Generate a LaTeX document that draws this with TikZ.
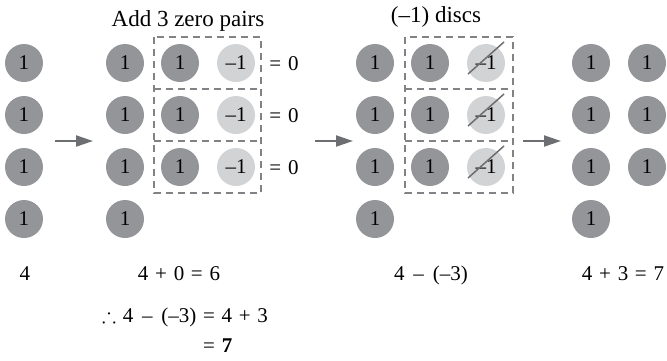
\documentclass[tikz,border=0pt]{standalone}
\usepackage{amssymb}
\usepackage{fontspec}
\setmainfont{Liberation Serif}
\usetikzlibrary{arrows.meta}
\definecolor{discdark}{HTML}{939598}
\definecolor{disclight}{HTML}{D1D3D4}
\definecolor{linegray}{HTML}{6D6E71}
\definecolor{boxgray}{HTML}{808285}
\newcommand\hfnt{\fontsize{23}{27}\selectfont}
\newcommand\lfnt{\fontsize{21}{25}\selectfont}
\newcommand\myg{\hspace{0.32em}}
\begin{document}
\begin{tikzpicture}[x=1pt,y=-1pt,
  posdisc/.style={circle,fill=discdark,minimum size=38pt,inner sep=0pt,font=\lfnt},
  negdisc/.style={circle,fill=disclight,minimum size=38pt,inner sep=0pt,font=\lfnt},
  pairbox/.style={draw=boxgray,line width=1.8pt,dash pattern=on 7pt off 5pt},
  stepArrow/.style={draw=linegray,line width=2pt,-{Triangle[length=17pt,width=11pt]}},
  strike/.style={draw=linegray,line width=1.5pt},
  lbl/.style={font=\lfnt,anchor=base,inner sep=0pt},
  head/.style={font=\hfnt,anchor=base,inner sep=0pt}]
\useasboundingbox (0,0) rectangle (667,360);

% column 1
\foreach \r/\y in {1/63,2/115,3/167,4/219}{
  \node[posdisc] (a\r) at (24,\y) {1};
}
% column 2
\foreach \r/\y in {1/63,2/115,3/167,4/219}{
  \node[posdisc] (b\r) at (125,\y) {1};
}
\foreach \r/\y in {1/63,2/115,3/167}{
  \node[posdisc] (bp\r) at (180,\y) {1};
  \node[negdisc] (bn\r) at (236,\y) {–1};
  \node[lbl] (bz\r) at (284,\y+7) {=\myg 0};
}
\draw[pairbox] (154,37) rectangle (261,193);
\draw[pairbox] (154,89) -- (261,89);
\draw[pairbox] (154,141) -- (261,141);
\node[head] (h1) at (188,26) {Add 3 zero pairs};

% column 3
\foreach \r/\y in {1/63,2/115,3/167,4/219}{
  \node[posdisc] (c\r) at (375,\y) {1};
}
\foreach \r/\y in {1/63,2/115,3/167}{
  \node[posdisc] (cp\r) at (430,\y) {1};
  \node[negdisc] (cn\r) at (486,\y) {–1};
  \draw[strike] ([shift={(-18,11)}]cn\r.center) -- ([shift={(18,-21)}]cn\r.center);
}
\draw[pairbox] (405,37) rectangle (513,193);
\draw[pairbox] (405,89) -- (513,89);
\draw[pairbox] (405,141) -- (513,141);
\node[head] (h2) at (436,22) {(–1) discs};

% column 4
\foreach \r/\y in {1/63,2/115,3/167,4/219}{
  \node[posdisc] (d\r) at (591,\y) {1};
}
\foreach \r/\y in {1/63,2/115,3/167}{
  \node[posdisc] (e\r) at (647,\y) {1};
}

% arrows
\coordinate (s1) at (55,141);  \coordinate (t1) at (93,141);
\coordinate (s2) at (315,141); \coordinate (t2) at (353,141);
\coordinate (s3) at (523,141); \coordinate (t3) at (561,141);
\draw[stepArrow] (s1) -- (t1);
\draw[stepArrow] (s2) -- (t2);
\draw[stepArrow] (s3) -- (t3);

% bottom labels
\node[lbl] (q1) at (25,280) {4};
\node[lbl] (q2) at (179,280) {4\myg +\myg 0\myg =\myg 6};
\node[lbl] (q3) at (431,280) {4\hspace{0.42em}–\hspace{0.42em}(–3)};
\node[lbl] (q4) at (623,280) {4\myg +\myg 3\myg =\myg 7};
\node[lbl] (r1) at (185,322) {$\therefore$\myg 4\hspace{0.42em}–\hspace{0.42em}(–3)\myg =\myg 4\myg +\myg 3};
\node[lbl,anchor=base west] (r2) at (203,352) {=\myg\textbf{7}};
\end{tikzpicture}
\end{document}
